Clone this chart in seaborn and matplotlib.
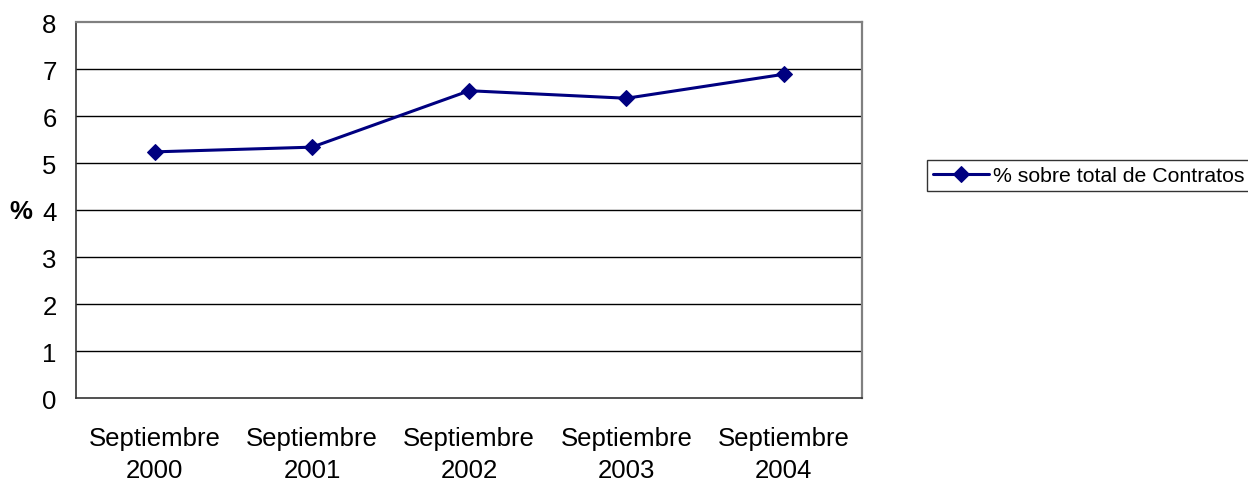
import matplotlib
matplotlib.use('Agg')
import matplotlib.pyplot as plt
import seaborn as sns
import pandas as pd
import numpy as np

# Data
periodos = ['Septiembre\n2000', 'Septiembre\n2001', 'Septiembre\n2002',
            'Septiembre\n2003', 'Septiembre\n2004']
porcentaje = [5.24, 5.34, 6.54, 6.38, 6.89]
serie = '% sobre total de Contratos'

df = pd.DataFrame({'x': np.arange(len(periodos)), 'valor': porcentaje})

sns.set_style('white')
plt.rcParams['font.family'] = ['Liberation Sans', 'DejaVu Sans']
plt.rcParams['text.color'] = 'black'
plt.rcParams['xtick.color'] = 'black'
plt.rcParams['ytick.color'] = 'black'
plt.rcParams['axes.labelcolor'] = 'black'

fig = plt.figure(figsize=(12.48, 4.81), dpi=100)
ax = fig.add_axes([0.061, 0.170, 0.630, 0.782])

sns.lineplot(data=df, x='x', y='valor', ax=ax, color='#000080', marker='D',
             markersize=7.8, markeredgecolor='#000080', linewidth=2.2, label=serie)

ax.set_xlim(-0.5, len(periodos) - 0.5)
ax.set_ylim(0, 8)
ax.set_yticks(range(0, 9))
ax.tick_params(axis='y', labelsize=18.5, length=6, width=1, color='black', pad=8)

# Excel-like category axis: ticks between categories, labels centered
ax.set_xticks(np.arange(-0.5, len(periodos), 1.0))
ax.set_xticklabels([])
ax.set_xticks(np.arange(len(periodos)), minor=True)
ax.set_xticklabels(periodos, minor=True, fontsize=18.5, linespacing=1.4)
ax.tick_params(axis='x', which='major', length=6, width=1, color='black', direction='out')
ax.tick_params(axis='x', which='minor', length=0, pad=20)

for y in range(1, 8):
    ax.axhline(y, color='black', linewidth=1, zorder=0)

for s in ['left', 'bottom']:
    ax.spines[s].set_color('#333333')
    ax.spines[s].set_linewidth(1.2)
for s in ['top', 'right']:
    ax.spines[s].set_visible(True)
    ax.spines[s].set_color('#808080')
    ax.spines[s].set_linewidth(1.6)

ax.set_xlabel('')
ax.set_ylabel('')
# "%" axis title, horizontal, left of the y ticks
fig.text(21 / 1248, 1 - 212 / 481, '%', fontsize=18.5, fontweight='bold',
         ha='center', va='center')

leg = ax.legend(loc='center left', bbox_to_anchor=(927 / 1248, 1 - 176.5 / 481),
                bbox_transform=fig.transFigure, borderaxespad=0, frameon=True,
                fontsize=15.3, handlelength=2.6, borderpad=0.3, fancybox=False,
                handletextpad=0.2)
leg.get_frame().set_edgecolor('black')
leg.get_frame().set_linewidth(1)

fig.savefig('out.png', dpi=100, facecolor='white')
